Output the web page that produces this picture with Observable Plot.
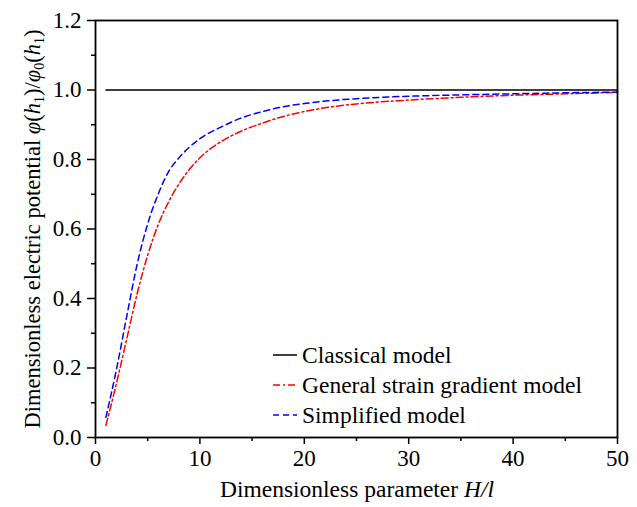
<!DOCTYPE html>
<html><head><meta charset="utf-8">
<script src="https://cdn.jsdelivr.net/npm/d3@7"></script>
<script src="https://cdn.jsdelivr.net/npm/@observablehq/plot@0.6"></script>
<style>body{margin:0;background:#fff}</style>
</head><body><div id="chart"></div>
<script>
const hl = [1,2,3,4,5,6,7,8,10,12,14,16,18,20,22,25,30,35,40,45,50];
const general = [0.035,0.155,0.285,0.415,0.525,0.612,0.678,0.73,0.805,0.851,0.882,0.905,0.924,0.938,0.949,0.960,0.971,0.979,0.985,0.989,0.993];
const simplified = [0.058,0.195,0.35,0.50,0.615,0.70,0.765,0.805,0.86,0.893,0.92,0.938,0.952,0.961,0.968,0.975,0.982,0.986,0.989,0.992,0.994];
const classicalX = [1,50];
const classicalY = [1.0,1.0];
const xMajor = [0,10,20,30,40,50];
const xMinor = [5,15,25,35,45];
const yMajor = [0,0.2,0.4,0.6,0.8,1.0,1.2];
const yMinor = [0.1,0.3,0.5,0.7,0.9,1.1];
const legendLabels = ["Classical model","General strain gradient model","Simplified model"];
const colors = ["#000000","#ff0000","#0000ff"];
const dashes = [null,"7,3,2,3","6,4"];

const gen = hl.map((x,i)=>({x,y:general[i]}));
const sim = hl.map((x,i)=>({x,y:simplified[i]}));
const cla = classicalX.map((x,i)=>({x,y:classicalY[i]}));

const font = "'Liberation Serif','Times New Roman',serif";
const plot = Plot.plot({
  width:637, height:507,
  marginLeft:95, marginRight:20, marginTop:20, marginBottom:70,
  style:{fontFamily:font, fontSize:"23px", color:"#000", background:"#fff"},
  x:{domain:[0,50]},
  y:{domain:[0,1.2]},
  marks:[
    Plot.axisX(xMajor,{tickSize:7, tickPadding:5, fontSize:23, tickFormat:d=>String(d), label:null, strokeWidth:1.5}),
    Plot.axisX(xMinor,{tickSize:4, tickFormat:()=>"", label:null, strokeWidth:1.5}),
    Plot.axisY(yMajor,{tickSize:8, tickPadding:6, fontSize:23, tickFormat:d=>d.toFixed(1), label:null, strokeWidth:1.5}),
    Plot.axisY(yMinor,{tickSize:4, tickFormat:()=>"", label:null, strokeWidth:1.5}),
    Plot.line(cla,{x:"x",y:"y",stroke:colors[0],strokeWidth:1.5}),
    Plot.line(gen,{x:"x",y:"y",stroke:colors[1],strokeWidth:1.5,strokeDasharray:dashes[1],curve:"monotone-x"}),
    Plot.line(sim,{x:"x",y:"y",stroke:colors[2],strokeWidth:1.5,strokeDasharray:dashes[2],curve:"monotone-x"}),
    Plot.frame({stroke:"#000",strokeWidth:1.8})
  ]
});
document.getElementById("chart").appendChild(plot);

const svg = d3.select(plot);

// X axis title
const xt = svg.append("text").attr("x",357).attr("y",497).attr("text-anchor","middle")
  .style("font-family",font).style("font-size","23.5px").attr("fill","#000");
xt.append("tspan").text("Dimensionless parameter ");
xt.append("tspan").style("font-style","italic").text("H/l");

// Y axis title
const yt = svg.append("text").attr("transform","translate(40,229) rotate(-90)").attr("text-anchor","middle")
  .style("font-family",font).style("font-size","22.5px").attr("fill","#000");
yt.append("tspan").text("Dimensionless electric potential ");
yt.append("tspan").style("font-style","italic").text("φ");
yt.append("tspan").text("(");
yt.append("tspan").style("font-style","italic").text("h");
yt.append("tspan").attr("dy","4").style("font-size","14px").text("1");
yt.append("tspan").attr("dy","-4").text(")/");
yt.append("tspan").style("font-style","italic").text("φ");
yt.append("tspan").attr("dy","4").style("font-size","14px").text("0");
yt.append("tspan").attr("dy","-4").text("(");
yt.append("tspan").style("font-style","italic").text("h");
yt.append("tspan").attr("dy","4").style("font-size","14px").text("1");
yt.append("tspan").attr("dy","-4").text(")");

// Legend
const lg = svg.append("g");
legendLabels.forEach((lab,i)=>{
  const y = 355 + i*30;
  lg.append("line").attr("x1",273).attr("x2",297).attr("y1",y).attr("y2",y)
    .attr("stroke",colors[i]).attr("stroke-width",1.5)
    .attr("stroke-dasharray",dashes[i]);
  lg.append("text").attr("x",302).attr("y",y).attr("dy","0.35em").attr("text-anchor","start")
    .style("font-family",font).style("font-size","23.5px").attr("fill","#000").text(lab);
});
</script></body></html>
